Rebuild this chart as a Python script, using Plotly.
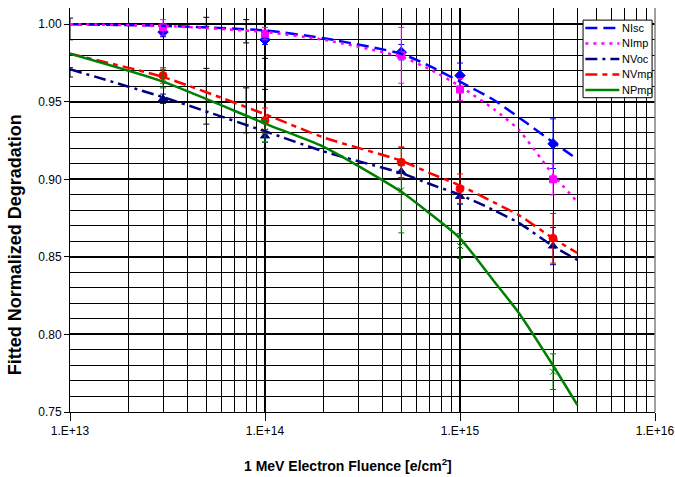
import plotly.graph_objects as go

# ---- measured data (markers with error bars) ----
fluence = [3e13, 1e14, 5e14, 1e15, 3e15]
nisc = [0.995, 0.990, 0.982, 0.967, 0.923]
nisc_err = [0.003, 0.003, 0.005, 0.008, 0.016]
nimp = [0.998, 0.994, 0.980, 0.958, 0.900]
nimp_err = [0.005, 0.004, 0.018, 0.007, 0.010]
nvoc = [0.952, 0.928, 0.905, 0.889, 0.857]
nvoc_err = [0.003, 0.004, 0.004, 0.005, 0.012]
nvmp = [0.967, 0.938, 0.911, 0.894, 0.862]
nvmp_err = [0.005, 0.008, 0.010, 0.0095, 0.016]
npmp = [0.965, 0.931, 0.893, 0.857, 0.776]
npmp_err = [0.006, 0.007, 0.0275, 0.008, 0.0115]

# other measurements (black error bars only)
other_x = [1e13, 1e13, 5e13, 5e13, 8e13, 8e13, 1e14, 1e14]
other_lo = [0.990, 0.966, 0.9987, 0.9356, 0.988, 0.930, 0.978, 0.920]
other_hi = [1.004, 0.972, 1.0045, 0.9716, 1.003, 0.959, 1.011, 0.958]

# ---- fitted curves ----
fit_x = [1e13, 3e13, 1e14, 2e14, 5e14, 7e14, 1e15, 1.5e15, 2e15, 3e15, 4e15]
fit_nisc = [1.000, 0.999, 0.996, 0.991, 0.981, 0.973, 0.963, 0.951, 0.940, 0.924, 0.913]
fit_nimp = [1.000, 0.999, 0.995, 0.990, 0.979, 0.971, 0.960, 0.945, 0.932, 0.903, 0.8855]
fit_nvoc = [0.971, 0.953, 0.931, 0.918, 0.904, 0.897, 0.890, 0.880, 0.872, 0.857, 0.848]
fit_nvmp = [0.981, 0.966, 0.942, 0.927, 0.912, 0.904, 0.896, 0.885, 0.877, 0.862, 0.8525]
fit_npmp = [0.981, 0.963, 0.936, 0.921, 0.892, 0.878, 0.862, 0.834, 0.814, 0.780, 0.7545]

xticks = [1e13, 1e14, 1e15, 1e16]
xticklabels = ["1.E+13", "1.E+14", "1.E+15", "1.E+16"]
yticks = [0.75, 0.80, 0.85, 0.90, 0.95, 1.00]
yticklabels = ["0.75", "0.80", "0.85", "0.90", "0.95", "1.00"]

FONT = "Liberation Sans, Arial, sans-serif"

fig = go.Figure()

# black error bars of other measurements
other_mid = [(a + b) / 2 for a, b in zip(other_lo, other_hi)]
other_half = [(b - a) / 2 for a, b in zip(other_lo, other_hi)]
fig.add_trace(go.Scatter(
    x=other_x, y=other_mid, mode="markers",
    marker=dict(size=1, color="rgba(0,0,0,0)"),
    error_y=dict(type="data", array=other_half, color="black", thickness=1, width=3),
    showlegend=False, hoverinfo="skip"))

series = [
    ("NIsc", fit_nisc, nisc, nisc_err, "#0000FF", "12px,6px", "diamond", 8),
    ("NImp", fit_nimp, nimp, nimp_err, "#FF00FF", "3px,5px", "square", 7),
    ("NVoc", fit_nvoc, nvoc, nvoc_err, "#000080", "12px,5px,3px,5px", "triangle-up", 8),
    ("NVmp", fit_nvmp, nvmp, nvmp_err, "#FF0000", "12px,5px,5px,5px", "circle", 8),
    ("NPmp", fit_npmp, npmp, npmp_err, "#008000", "solid", "x-thin-open", 6),
]

for name, fit, vals, errs, col, dash, sym, ms in series:
    fig.add_trace(go.Scatter(
        x=fluence, y=vals, mode="markers",
        marker=dict(symbol=sym, size=ms, color=col, line=dict(color=col, width=1)),
        error_y=dict(type="data", array=errs, color=col, thickness=1, width=3),
        showlegend=False, hoverinfo="skip"))

for name, fit, vals, errs, col, dash, sym, ms in series:
    fig.add_trace(go.Scatter(
        x=fit_x, y=fit, mode="lines", name=name, showlegend=False,
        line=dict(color=col, width=2.5, dash=dash, shape="spline", smoothing=0.6)))

# ---- hand-drawn legend box (Excel style, compact) ----
leg_x0, leg_x1, leg_y0, leg_y1 = 0.877, 0.995, 0.778, 0.970
fig.add_shape(type="rect", xref="paper", yref="paper",
              x0=leg_x0, x1=leg_x1, y0=leg_y0, y1=leg_y1,
              line=dict(color="black", width=1), fillcolor="white", layer="above")
row_h = (leg_y1 - leg_y0) / len(series)
for i, (name, fit, vals, errs, col, dash, sym, ms) in enumerate(series):
    yc = leg_y1 - row_h * (i + 0.5)
    fig.add_shape(type="line", xref="paper", yref="paper",
                  x0=leg_x0 + 0.004, x1=leg_x0 + 0.062, y0=yc, y1=yc,
                  line=dict(color=col, width=2.5, dash=dash), layer="above")
    fig.add_annotation(xref="paper", yref="paper", x=leg_x0 + 0.064, y=yc,
                       text=name, showarrow=False, xanchor="left", yanchor="middle",
                       font=dict(size=11, family=FONT, color="black"))

# axis titles (placed like the Excel original)
fig.add_annotation(xref="paper", yref="paper", x=0.4752, y=-0.131,
                   text="<b>1 MeV Electron Fluence [e/cm<sup>2</sup>]</b>",
                   showarrow=False, xanchor="center", yanchor="middle",
                   font=dict(size=14, family=FONT, color="black"))
fig.add_annotation(xref="paper", yref="paper", x=-0.0926, y=0.415,
                   text="<b>Fitted Normalized Degradation</b>", textangle=-90,
                   showarrow=False, xanchor="center", yanchor="middle",
                   font=dict(size=18, family=FONT, color="black"))

fig.update_layout(
    width=675, height=477,
    margin=dict(l=70, r=20, t=8, b=65, autoexpand=False),
    paper_bgcolor="white", plot_bgcolor="white",
    font=dict(family=FONT, size=12, color="black"),
    showlegend=False,
)

fig.update_xaxes(
    type="log", range=[13, 16], automargin=False,
    tickvals=xticks, ticktext=xticklabels, ticklabeloverflow="allow",
    showgrid=True, gridcolor="black", gridwidth=2,
    ticks="outside", ticklen=8, tickcolor="black",
    showline=True, linecolor="black", linewidth=1, mirror=False,
    minor=dict(dtick="D1", showgrid=True, gridcolor="black", gridwidth=1, ticks=""),
    tickfont=dict(size=12, family=FONT),
    zeroline=False,
)
fig.update_yaxes(
    range=[0.75, 1.0105], automargin=False,
    tickvals=yticks, ticktext=yticklabels,
    showgrid=True, gridcolor="black", gridwidth=2,
    ticks="outside", ticklen=5, tickcolor="black",
    showline=True, linecolor="black", linewidth=1,
    minor=dict(dtick=0.01, showgrid=True, gridcolor="black", gridwidth=1, ticks=""),
    tickfont=dict(size=12, family=FONT),
    zeroline=False,
)

# right border of plot area
fig.add_shape(type="line", xref="paper", yref="paper", x0=1, x1=1, y0=0, y1=1,
              line=dict(color="gray", width=1.5))

fig.write_html("out.html")
